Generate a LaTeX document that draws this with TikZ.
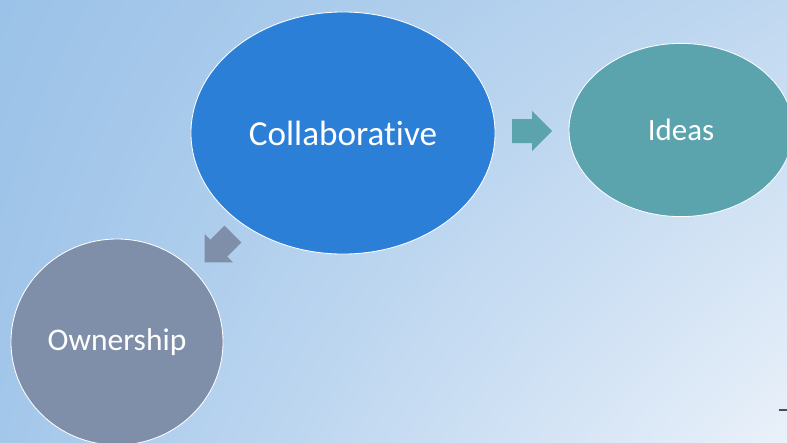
\documentclass[tikz,border=0pt]{standalone}
\usepackage{fontspec}
\setmainfont{Carlito}[Ligatures={NoCommon}]
\usepackage{xcolor}
\usepackage{tikz}
\usetikzlibrary{shapes.geometric,shadings}

\definecolor{bgtopleft}{RGB}{155,194,232}
\definecolor{bgtopright}{RGB}{192,216,240}
\definecolor{bgbottomleft}{RGB}{163,199,234}
\definecolor{bgbottomright}{RGB}{234,241,250}
\definecolor{collabblue}{RGB}{43,127,214}
\definecolor{ideasteal}{RGB}{91,164,173}
\definecolor{ownergray}{RGB}{127,143,169}

\begin{document}
\begin{tikzpicture}[x=0.025cm, y=-0.025cm,
    bubble/.style={ellipse, draw=white, line width=0.6pt, text=white, inner sep=0pt},
    blockarrow/.pic={\fill (0,-12) -- (20,-12) -- (20,-20) -- (40,0) -- (20,20) -- (20,12) -- (0,12) -- cycle;}]

    % Hintergrund
    \clip (0,0) rectangle (787,442);
    \shade[upper left=bgtopleft, upper right=bgtopright, lower left=bgbottomleft, lower right=bgbottomright] (0,0) rectangle (787,442);

    % Blasen
    \node (collab) at (343,133) [bubble, fill=collabblue, minimum width=7.6cm, minimum height=6.05cm, font=\fontsize{25}{30}\selectfont] {Collaborative};
    \node (ideas) at (681,130) [bubble, fill=ideasteal, minimum width=5.6cm, minimum height=4.33cm, font=\fontsize{22}{26}\selectfont] {Ideas};
    \node (owner) at (117,342) [bubble, fill=ownergray, minimum width=5.3cm, minimum height=5.15cm, font=\fontsize{22.4}{27}\selectfont] {Ownership};

    % Pfeile
    \pic[fill=ideasteal] at (512,131) {blockarrow};
    \pic[fill=ownergray, rotate=-135] at (233,234) {blockarrow};

    % Strich unten rechts
    \draw[gray!60!black, line width=0.9pt] (779,410) -- (787,410);

\end{tikzpicture}
\end{document}
